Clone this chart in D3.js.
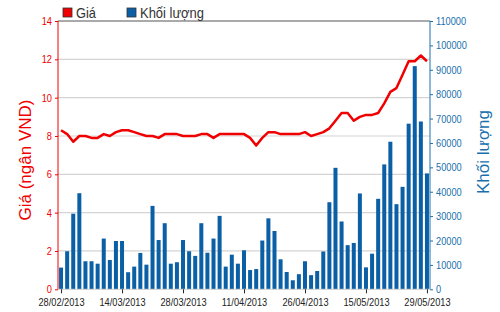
<!DOCTYPE html>
<html>
<meta charset="utf-8">
<head>
<style>
  body { margin: 0; background: #fff; }
  svg { display: block; font-family: "Liberation Sans", Arial, sans-serif; }
</style>
<script src="https://d3js.org/d3.v7.min.js"></script>
</head>
<body>
<svg></svg>
<script>
// trading days 28/02/2013 - 29/05/2013
var dates = ["28/02/2013","01/03/2013","04/03/2013","05/03/2013","06/03/2013","07/03/2013","08/03/2013",
  "11/03/2013","12/03/2013","13/03/2013","14/03/2013","15/03/2013","18/03/2013","19/03/2013","20/03/2013",
  "21/03/2013","22/03/2013","25/03/2013","26/03/2013","27/03/2013","28/03/2013","29/03/2013","01/04/2013",
  "02/04/2013","03/04/2013","04/04/2013","05/04/2013","08/04/2013","09/04/2013","10/04/2013","11/04/2013",
  "12/04/2013","15/04/2013","16/04/2013","17/04/2013","18/04/2013","22/04/2013","23/04/2013","24/04/2013",
  "25/04/2013","26/04/2013","02/05/2013","03/05/2013","06/05/2013","07/05/2013","08/05/2013","09/05/2013",
  "10/05/2013","13/05/2013","14/05/2013","15/05/2013","16/05/2013","17/05/2013","20/05/2013","21/05/2013",
  "22/05/2013","23/05/2013","24/05/2013","27/05/2013","28/05/2013","29/05/2013"];

var price = [8.3,8.1,7.7,8.0,8.0,7.9,7.9,8.1,8.0,8.2,8.3,8.3,8.2,8.1,8.0,8.0,7.9,8.1,8.1,8.1,
  8.0,8.0,8.0,8.1,8.1,7.9,8.1,8.1,8.1,8.1,8.1,7.9,7.5,7.9,8.2,8.2,8.1,8.1,8.1,8.1,
  8.2,8.0,8.1,8.2,8.4,8.8,9.2,9.2,8.8,9.0,9.1,9.1,9.2,9.7,10.3,10.5,11.2,11.9,11.9,12.2,11.9];

var volume = [8900,15600,31000,39400,11500,11500,10500,20800,12000,19800,19800,7000,9300,14900,10100,
  34200,20200,27100,10500,11100,20200,15600,13700,27100,15000,20800,30100,9300,14200,10500,16000,
  7900,8300,20000,29100,23900,12300,7100,3700,6200,11500,5800,7500,15500,35700,49800,27800,18100,
  19000,39300,9000,14600,37100,51200,60500,34900,42000,67900,91500,68800,47500];

var priceTicks = [0,2,4,6,8,10,12,14];
var volTicks = [0,10000,20000,30000,40000,50000,60000,70000,80000,90000,100000,110000];
var xTickLabels = ["28/02/2013","14/03/2013","28/03/2013","11/04/2013","26/04/2013","15/05/2013","29/05/2013"];

var width = 500, height = 312;
var pLeft = 58, pRight = 430, pTop = 21, pBottom = 289.3;
var red = "#f00000", blue = "#0b5fa5", axisBlue = "#1a70ad";

var svg = d3.select("svg").attr("width", width).attr("height", height);

var x = d3.scalePoint().domain(dates).range([pLeft, pRight]).padding(0.5);
var yP = d3.scaleLinear().domain([0, 14]).range([pBottom, pTop]);
var yV = d3.scaleLinear().domain([0, 110000]).range([pBottom, pTop]);

// grid lines
svg.append("g").selectAll("line")
  .data(priceTicks.filter(d => d > 0 && d < 14))
  .enter().append("line")
  .attr("x1", pLeft).attr("x2", pRight)
  .attr("y1", d => yP(d)).attr("y2", d => yP(d))
  .attr("stroke", "#d4d4d4").attr("stroke-width", 1.2);

// top border
svg.append("line")
  .attr("x1", pLeft).attr("x2", pRight).attr("y1", pTop).attr("y2", pTop)
  .attr("stroke", "#555").attr("stroke-width", 1);

// bars
svg.append("g").selectAll("rect")
  .data(volume)
  .enter().append("rect")
  .attr("x", (d, i) => x(dates[i]) - 2)
  .attr("width", 4)
  .attr("y", d => yV(d))
  .attr("height", d => pBottom - yV(d))
  .attr("fill", blue);

// price line
svg.append("path")
  .datum(price)
  .attr("d", d3.line().x((d, i) => x(dates[i])).y(d => yP(d)))
  .attr("fill", "none")
  .attr("stroke", red)
  .attr("stroke-width", 2.5)
  .attr("stroke-linejoin", "round");

// narrow look for tick labels
function narrow(sel) {
  sel.attr("font-size", 11)
    .attr("transform", "scale(0.84,1)")
    .attr("x", function() { return +d3.select(this).attr("x") / 0.84; });
}

// left axis
var gl = svg.append("g").attr("transform", "translate(" + pLeft + ",0)")
  .call(d3.axisLeft(yP).tickValues(priceTicks).tickSize(3).tickPadding(3));
gl.select(".domain").attr("stroke", red).attr("d", "M0," + pTop + "V" + pBottom);
gl.selectAll(".tick line").attr("stroke", red);
gl.selectAll("text").attr("fill", red).call(narrow);

// right axis
var gr = svg.append("g").attr("transform", "translate(" + pRight + ",0)")
  .call(d3.axisRight(yV).tickValues(volTicks).tickFormat(d3.format("d")).tickSize(3).tickPadding(3));
gr.select(".domain").attr("stroke", axisBlue).attr("d", "M0," + pTop + "V" + pBottom);
gr.selectAll(".tick line").attr("stroke", axisBlue);
gr.selectAll("text").attr("fill", axisBlue).call(narrow);

// bottom axis
var gb = svg.append("g").attr("transform", "translate(0," + pBottom + ")")
  .call(d3.axisBottom(x).tickValues(xTickLabels).tickSize(4).tickPadding(5));
gb.select(".domain").attr("stroke", "#d4d4d4").attr("d", "M" + pLeft + ",0H" + pRight);
gb.selectAll(".tick line").attr("stroke", "#222");
gb.selectAll("text").attr("fill", "#222").call(narrow);

// axis titles
svg.append("text")
  .attr("transform", "translate(31,160) rotate(-90)")
  .attr("text-anchor", "middle")
  .attr("fill", red)
  .attr("font-size", 17)
  .text("Giá (ngân VND)");

svg.append("text")
  .attr("transform", "translate(489,152) rotate(-90)")
  .attr("text-anchor", "middle")
  .attr("fill", axisBlue)
  .attr("font-size", 17)
  .text("Khối lượng");

// legend
var legend = [{name: "Giá", color: red, x: 63}, {name: "Khối lượng", color: blue, x: 127}];
var lg = svg.append("g").selectAll("g").data(legend).enter().append("g");
lg.append("rect")
  .attr("x", d => d.x).attr("y", 8).attr("width", 9).attr("height", 9)
  .attr("fill", d => d.color).attr("stroke", "#333").attr("stroke-width", 0.8);
lg.append("text")
  .attr("x", d => d.x + 13).attr("y", 18)
  .attr("fill", "#333").attr("font-size", 15)
  .attr("textLength", d => d.name === "Giá" ? 20 : 64)
  .attr("lengthAdjust", "spacingAndGlyphs")
  .text(d => d.name);
</script>
</body>
</html>
